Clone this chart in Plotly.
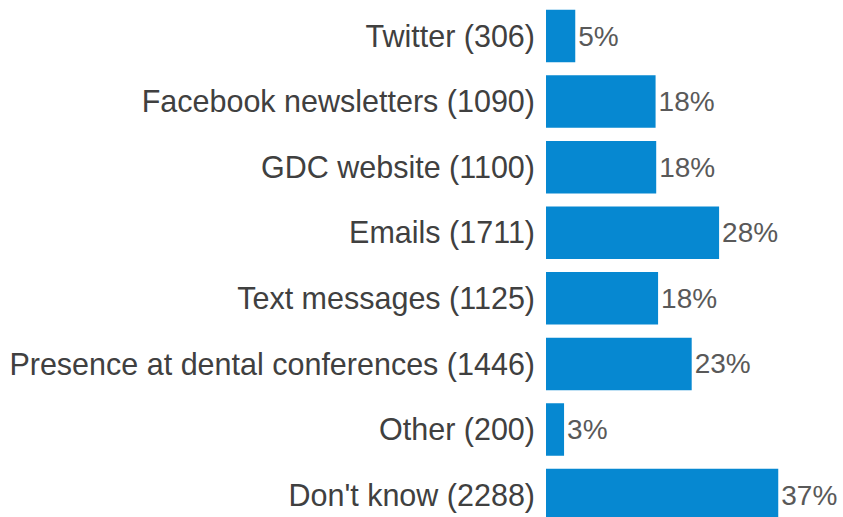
import plotly.graph_objects as go

categories = [
    "Twitter (306)",
    "Facebook newsletters (1090)",
    "GDC website (1100)",
    "Emails (1711)",
    "Text messages (1125)",
    "Presence at dental conferences (1446)",
    "Other (200)",
    "Don't know (2288)",
]
percent = [4.7, 17.6, 17.7, 27.8, 18.0, 23.4, 2.9, 37.3]

FONT = "Arial"

fig = go.Figure(
    go.Bar(
        x=percent,
        y=categories,
        orientation="h",
        marker=dict(color="#0688d1", line=dict(width=0)),
        texttemplate="%{x:.0f}%",
        textposition="outside",
        textfont=dict(family=FONT, size=28, color="#595959"),
        cliponaxis=False,
        constraintext="none",
        hoverinfo="skip",
    )
)

fig.update_layout(
    width=843,
    height=517,
    margin=dict(l=546, r=0, t=0, b=0, pad=0),
    paper_bgcolor="white",
    plot_bgcolor="white",
    bargap=0.2,
    showlegend=False,
    font=dict(family=FONT, color="#404040"),
)
fig.update_xaxes(
    range=[0, 47.7],
    visible=False,
    showgrid=False,
    zeroline=False,
)
fig.update_yaxes(
    type="category",
    categoryorder="array",
    categoryarray=categories,
    range=[7.334, -0.549],
    showgrid=False,
    zeroline=False,
    showline=False,
    ticks="",
    ticklabelstandoff=10,
    tickfont=dict(family=FONT, size=30.5, color="#404040"),
)

fig.write_html(
    "out.html",
    config={"displayModeBar": False},
    post_script="document.body.style.margin='0';document.body.style.overflow='hidden';",
)
